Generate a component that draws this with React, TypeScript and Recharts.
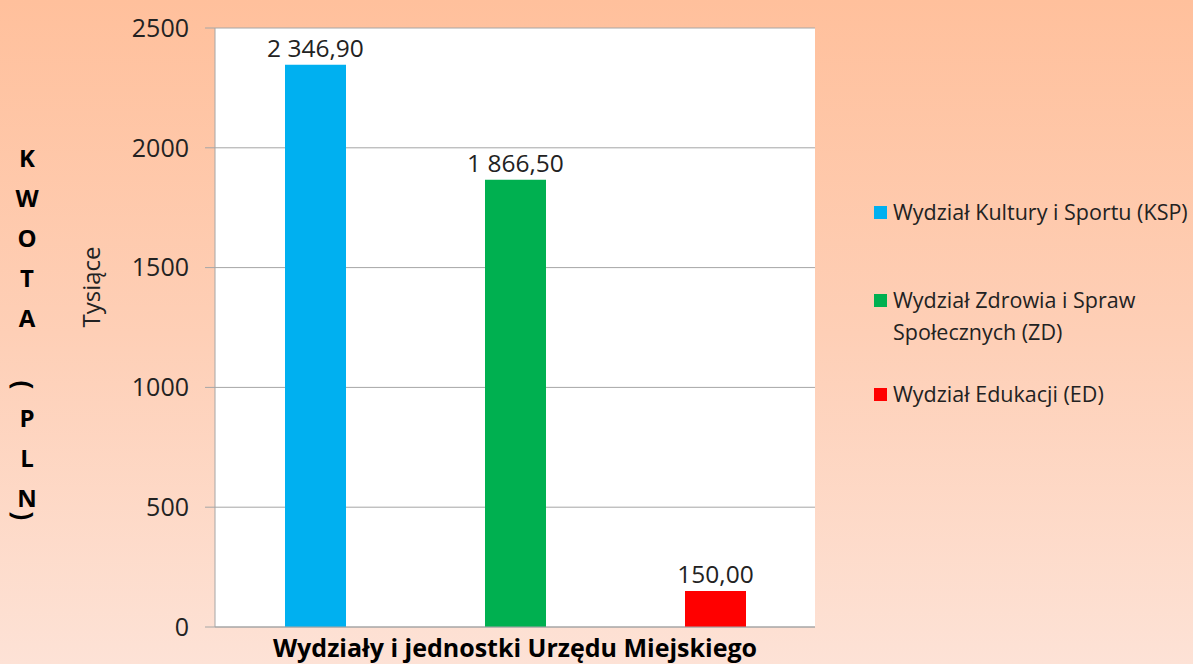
import { BarChart, Bar, XAxis, YAxis, CartesianGrid, Legend, LabelList } from "recharts"

const series = [
  "Wydział Kultury i Sportu (KSP)",
  "Wydział Zdrowia i Spraw Społecznych (ZD)",
  "Wydział Edukacji (ED)",
]
const keys = ["ksp", "zd", "ed"]
const values = [2346.9, 1866.5, 150.0]
const colors = ["#00B0F0", "#00B050", "#FF0000"]
const yTicks = [0, 500, 1000, 1500, 2000, 2500]
const category = "Wydziały i jednostki Urzędu Miejskiego"

const data = [
  keys.reduce<Record<string, number | string>>(
    (row, k, i) => {
      row[k] = values[i]
      return row
    },
    { name: category }
  ),
]

const FONT = "'Open Sans', 'Noto Sans', sans-serif"

// polish style: "2 346,90"
const fmt = (v: any) => {
  const [int, dec] = Number(v).toFixed(2).split(".")
  return int.replace(/\B(?=(\d{3})+(?!\d))/g, " ") + "," + dec
}

// vertical "KWOTA (PLN)" title + "Tysiące" units
const letters = ["K", "W", "O", "T", "A", "(", "P", "L", "N", ")"]
const letterY = [157, 197, 237, 277, 317, 385, 417, 457, 497, 516]

const YTitle = (props: any) => {
  const vb = props.viewBox || {}
  const top = vb.y ?? 28
  return (
    <g fontFamily={FONT}>
      {letters.map((ch, i) => {
        const y = top + letterY[i] - 28
        const paren = ch === "(" || ch === ")"
        const x = paren ? 24 : 27
        return (
          <text
            key={i}
            x={x}
            y={y}
            textAnchor="middle"
            dominantBaseline="central"
            fontSize={paren ? 26 : 24}
            fontWeight={700}
            fill="#000"
            transform={paren ? `rotate(90 ${x} ${y})` : undefined}
          >
            {ch}
          </text>
        )
      })}
      <text
        x={90}
        y={top + 259}
        textAnchor="middle"
        dominantBaseline="central"
        fontSize={24}
        fill="#222"
        transform={`rotate(-90 90 ${top + 259})`}
      >
        Tysiące
      </text>
    </g>
  )
}

const TopValue = (props: any) => {
  const { x, y, width, value } = props
  return (
    <text
      x={x + width / 2}
      y={y - 8}
      textAnchor="middle"
      fontFamily={FONT}
      fontSize={24.5}
      fill="#222"
    >
      {fmt(value)}
    </text>
  )
}

const LegendBox = () => (
  <div style={{ fontFamily: FONT, fontSize: 21.5, color: "#222", width: 319 }}>
    {series.map((s, i) => (
      <div
        key={s}
        style={{
          display: "flex",
          alignItems: "flex-start",
          marginBottom: i === 0 ? 56 : 30,
          lineHeight: "32px",
        }}
      >
        <span
          style={{
            display: "inline-block",
            width: 13,
            height: 13,
            background: colors[i],
            marginTop: 10,
            marginRight: 6,
            flexShrink: 0,
          }}
        />
        <span>{s}</span>
      </div>
    ))}
  </div>
)

export default function App() {
  return (
    <div
      style={{
        position: "absolute",
        top: 0,
        left: 0,
        width: 1193,
        height: 664,
        background: "linear-gradient(180deg, #FFC09C 0%, #FECFB6 50%, #FDE2D6 100%)",
      }}
    >
      <BarChart
        width={1193}
        height={664}
        data={data}
        // legend width (319) is taken off the right side too
        margin={{ top: 28, right: 59, bottom: 0, left: 0 }}
        barGap={139}
      >
        <CartesianGrid vertical={false} stroke="#A6A6A6" fill="#FFFFFF" />
        <XAxis
          dataKey="name"
          tick={false}
          tickLine={false}
          axisLine={{ stroke: "#A6A6A6" }}
          height={37}
          label={{
            value: category,
            position: "insideBottom",
            offset: 7,
            fontFamily: FONT,
            fontSize: 25,
            fontWeight: 700,
            fill: "#000",
          }}
        />
        <YAxis
          width={215}
          domain={[0, 2500]}
          ticks={yTicks}
          interval={0}
          tickSize={10}
          tickMargin={16}
          axisLine={{ stroke: "#A6A6A6" }}
          tickLine={{ stroke: "#A6A6A6" }}
          tick={{ fontFamily: FONT, fontSize: 25, fill: "#222" }}
          label={<YTitle />}
        />
        <Legend
          layout="vertical"
          align="right"
          verticalAlign="top"
          content={<LegendBox />}
          wrapperStyle={{ top: 196, left: 874, width: 319 }}
        />
        {keys.map((k, i) => (
          <Bar
            key={k}
            dataKey={k}
            name={series[i]}
            fill={colors[i]}
            barSize={61}
            isAnimationActive={false}
          >
            <LabelList dataKey={k} content={<TopValue />} />
          </Bar>
        ))}
      </BarChart>
    </div>
  )
}
